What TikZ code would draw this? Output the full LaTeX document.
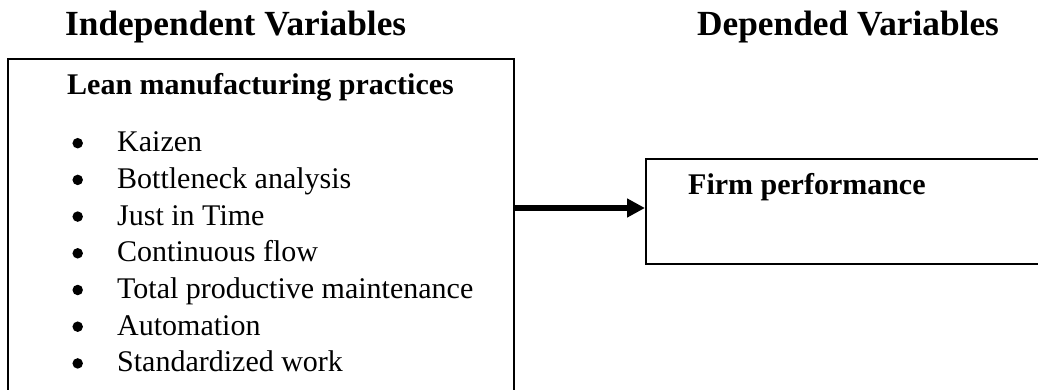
\documentclass[tikz,border=0pt]{standalone}
\usepackage{fontspec}
\setmainfont{Liberation Serif}
\usetikzlibrary{arrows.meta}
\begin{document}
\begin{tikzpicture}[x=1pt,y=-1pt,
  box/.style={draw=black,line width=1.8pt,rectangle,inner sep=0pt,anchor=north west},
  heading/.style={inner sep=0pt,anchor=base west,font=\fontsize{35.3}{42}\selectfont\bfseries},
  boxtitle/.style={inner sep=0pt,anchor=base west,font=\fontsize{30}{36}\selectfont\bfseries},
  item/.style={inner sep=0pt,anchor=base west,font=\fontsize{30}{36}\selectfont},
  bul/.style={circle,fill=black,inner sep=0pt,minimum size=10.5pt},
  link/.style={line width=5.5pt,-{Triangle[length=18pt,width=18pt]}}]
\useasboundingbox (0,0) rectangle (1038,390);
\clip (0,0) rectangle (1038,390);
\node[heading] (hind) at (65,36) {Independent Variables};
\node[heading] (hdep) at (697,36) {Depended Variables};
\node[box,minimum width=506pt,minimum height=380pt] (lean) at (7,58) {};
\node[box,minimum width=420pt,minimum height=105pt] (firm) at (645,158) {};
\node[boxtitle] (leant) at (67,95) {Lean manufacturing practices};
\foreach \t [count=\i from 0] in {Kaizen,Bottleneck analysis,Just in Time,Continuous flow,Total productive maintenance,Automation,Standardized work}{
  \node[bul] (b\i) at (77.7,143.2+36.7*\i) {};
  \node[item] (t\i) at (117,151.7+36.7*\i) {\t};
}
\node[boxtitle] (firmt) at (688,195) {Firm performance};
\coordinate (a0) at (lean.east |- 0,208);
\coordinate (a1) at (firm.west |- 0,208);
\draw[link] (a0) -- (a1);
\end{tikzpicture}
\end{document}
